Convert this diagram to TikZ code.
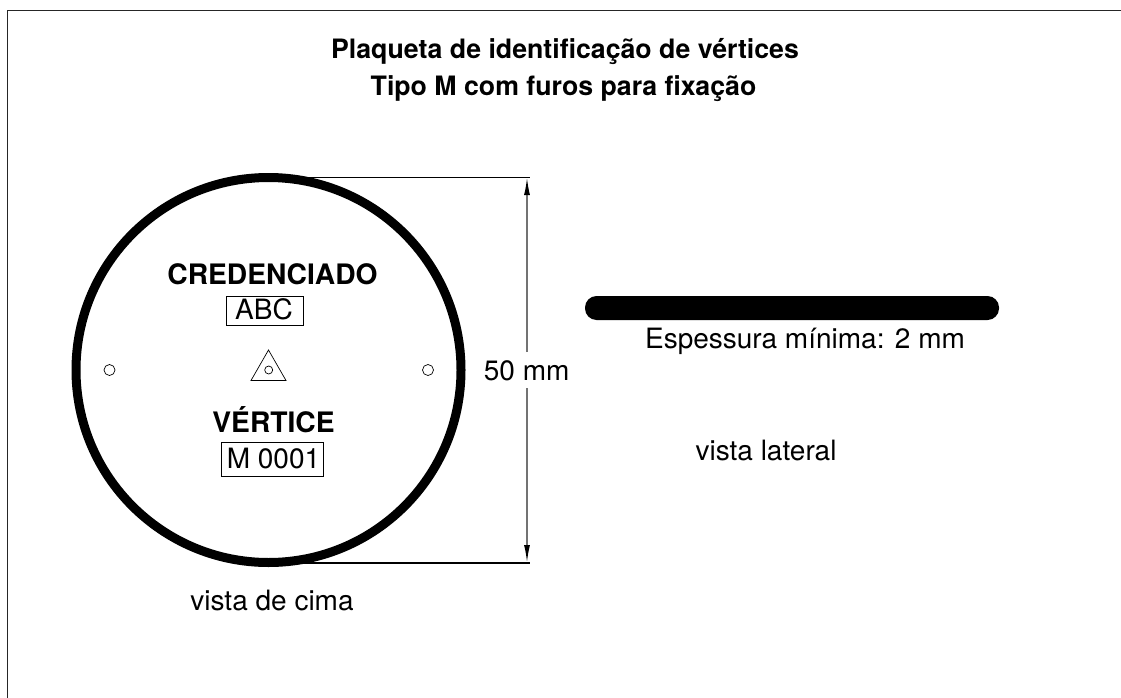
\documentclass[tikz,border=0pt]{standalone}
\usepackage{fontspec}
\setmainfont{TeX Gyre Heros}
\usetikzlibrary{arrows.meta}
\tikzset{
  x=1pt,y=-1pt,
  frameline/.style={draw=black!85,line width=1pt},
  titletext/.style={font=\fontsize{26.7}{37}\selectfont\bfseries,anchor=base,inner sep=0pt},
  headtext/.style={font=\fontsize{28.2}{30}\selectfont\bfseries,anchor=base,inner sep=0pt},
  plain/.style={font=\fontsize{28}{30}\selectfont,anchor=base,inner sep=0pt},
  hole/.style={draw,line width=0.7pt,circle,minimum size=#1,inner sep=0pt},
  dimline/.style={draw=black!55,line width=1.7pt},
  dimtip/.style={-{Latex[length=18pt,width=6pt,black]}},
}
\begin{document}
\begin{tikzpicture}
\useasboundingbox (0,0) rectangle (1121,698);
\draw[frameline] (1121,10.5) -- (7.5,10.5) -- (7.5,698);
\node[titletext] (title1) at (565,58.5) {Plaqueta de identificação de vértices};
\node[titletext] (title2) at (563.5,95.7) {Tipo M com furos para fixação};
\node[circle,draw,line width=9pt,minimum size=385pt,inner sep=0pt] (disc) at (268.5,370) {};
\node[headtext] (cred) at (272.5,284) {CREDENCIADO};
\node[draw,line width=0.7pt,minimum width=77pt,minimum height=29pt,inner sep=0pt] (abc) at (264.5,310.5) {};
\node[plain] (abctext) at (264,319) {ABC};
\node[headtext] (vert) at (273.5,432) {VÉRTICE};
\node[draw,line width=0.7pt,minimum width=102pt,minimum height=34pt,inner sep=0pt] (num) at (272.5,459) {};
\node[plain] (numtext) at (273.5,468) {M 0001};
\node[hole=11pt] (hl) at (109.5,370) {};
\node[hole=11pt] (hr) at (428,370) {};
\node[hole=8pt] (hc) at (268.7,370) {};
\draw[line width=0.7pt,line join=miter] (268.5,350) -- (286,380.5) -- (251,380.5) -- cycle;
\coordinate (dt) at (268,177);
\coordinate (db) at (268,563);
\coordinate (dte) at (530,177);
\coordinate (dbe) at (530,563);
\coordinate (at) at (527,177);
\coordinate (ab) at (527,563);
\coordinate (gapt) at (527,352);
\coordinate (gapb) at (527,388);
\node[plain] (dim) at (526.7,380) {50 mm};
\draw[line width=1pt] (dt) -- (dte);
\draw[line width=1.2pt] (db) -- (dbe);
\draw[dimline,dimtip] (gapt) -- (at);
\draw[dimline,dimtip] (gapb) -- (ab);
\node[fill=black,rounded corners=11.5pt,minimum width=414pt,minimum height=24pt,inner sep=0pt] (bar) at (792,308) {};
\node[plain] (esp) at (805,348) {Espessura mínima: 2 mm};
\node[plain] (lat) at (766,460) {vista lateral};
\node[plain] (cima) at (272,610) {vista de cima};
\end{tikzpicture}
\end{document}
